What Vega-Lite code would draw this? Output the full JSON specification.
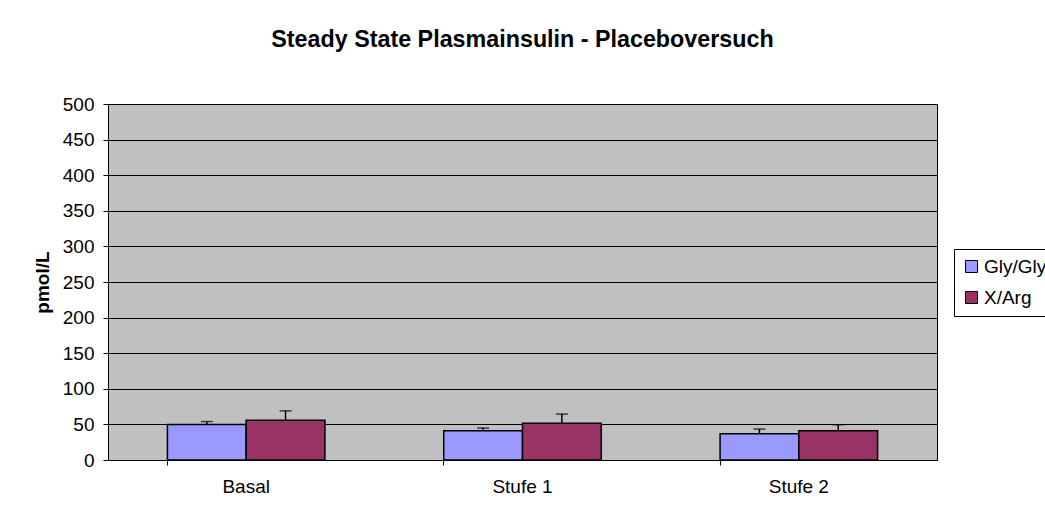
{
  "$schema": "https://vega.github.io/schema/vega-lite/v6.json",
  "width": 829,
  "height": 356,
  "autosize": {"type": "none"},
  "padding": {"left": 108, "top": 104, "right": 108, "bottom": 56},
  "background": "white",
  "title": {
    "text": "Steady State Plasmainsulin - Placeboversuch",
    "font": "Liberation Sans",
    "fontSize": 23.3,
    "fontWeight": "bold",
    "color": "black",
    "anchor": "middle",
    "offset": 43
  },
  "config": {
    "view": {"fill": "#C0C0C0", "stroke": "black", "strokeWidth": 1},
    "font": "Liberation Sans",
    "axisY": {
      "titleFont": "Liberation Sans",
      "titleFontSize": 19,
      "titleFontWeight": "bold",
      "titleColor": "black",
      "titlePadding": 10,
      "labelOverlap": false,
      "labelFont": "Liberation Sans",
      "labelFontSize": 19,
      "labelColor": "black",
      "labelPadding": 9,
      "tickColor": "black",
      "tickSize": 5,
      "domainColor": "black",
      "gridColor": "black",
      "gridOpacity": 1,
      "gridWidth": 1
    }
  },
  "data": {
    "values": [
      {"Kategorie": "Basal", "Serie": "Gly/Gly", "Wert": 50, "Fehler": 54},
      {"Kategorie": "Basal", "Serie": "X/Arg", "Wert": 56, "Fehler": 69},
      {"Kategorie": "Stufe 1", "Serie": "Gly/Gly", "Wert": 41, "Fehler": 45},
      {"Kategorie": "Stufe 1", "Serie": "X/Arg", "Wert": 51.5, "Fehler": 64.5},
      {"Kategorie": "Stufe 2", "Serie": "Gly/Gly", "Wert": 37, "Fehler": 43.5},
      {"Kategorie": "Stufe 2", "Serie": "X/Arg", "Wert": 41, "Fehler": 49.5}
    ]
  },
  "encoding": {
    "x": {
      "field": "Kategorie",
      "type": "nominal",
      "sort": ["Basal", "Stufe 1", "Stufe 2"],
      "scale": {"paddingInner": 0.43, "paddingOuter": 0.215},
      "axis": {
        "title": null,
        "labelAngle": 0,
        "labelFont": "Liberation Sans",
        "labelFontSize": 19,
        "labelColor": "black",
        "labelPadding": 12,
        "bandPosition": 0,
        "tickColor": "black",
        "tickSize": 5,
        "domainColor": "black",
        "grid": false
      }
    },
    "xOffset": {"field": "Serie", "type": "nominal", "scale": {"paddingInner": 0, "paddingOuter": 0}}
  },
  "layer": [
    {
      "mark": {"type": "bar", "stroke": "black", "strokeWidth": 1.5},
      "encoding": {
        "y": {
          "field": "Wert",
          "type": "quantitative",
          "scale": {"domain": [0, 500], "nice": false},
          "axis": {"title": "pmol/L", "values": [0, 50, 100, 150, 200, 250, 300, 350, 400, 450, 500], "labelOverlap": false}
        },
        "color": {
          "field": "Serie",
          "type": "nominal",
          "scale": {"domain": ["Gly/Gly", "X/Arg"], "range": ["#9999FF", "#993366"]},
          "legend": {
            "title": null,
            "orient": "none",
            "legendX": 846,
            "legendY": 145,
            "symbolType": "square",
            "symbolSize": 144,
            "symbolStrokeColor": "black",
            "symbolStrokeWidth": 1,
            "labelFont": "Liberation Sans",
            "labelFontSize": 19,
            "labelColor": "black",
            "labelOffset": 3,
            "rowPadding": 11,
            "padding": 8,
            "strokeColor": "black",
            "fillColor": "white"
          }
        }
      }
    },
    {
      "mark": {"type": "rule", "color": "black", "strokeWidth": 1.5},
      "encoding": {
        "y": {"field": "Wert", "type": "quantitative", "axis": {"title": "pmol/L", "values": [0, 50, 100, 150, 200, 250, 300, 350, 400, 450, 500], "labelOverlap": false}},
        "y2": {"field": "Fehler"}
      }
    },
    {
      "mark": {"type": "tick", "orient": "horizontal", "color": "black", "size": 12, "thickness": 1.5},
      "encoding": {
        "y": {"field": "Fehler", "type": "quantitative", "axis": {"title": "pmol/L", "values": [0, 50, 100, 150, 200, 250, 300, 350, 400, 450, 500], "labelOverlap": false}}
      }
    }
  ]
}
